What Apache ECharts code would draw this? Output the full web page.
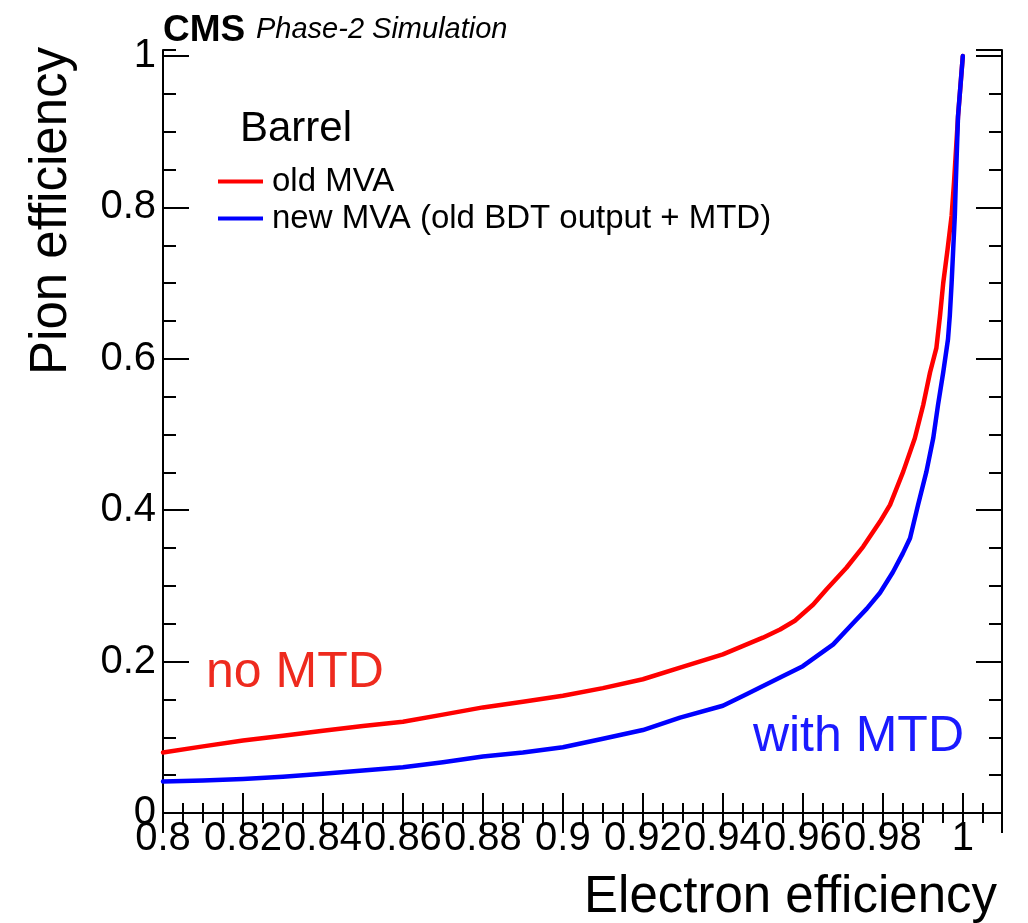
<!DOCTYPE html>
<html>
<head>
<meta charset="utf-8">
<script src="https://cdn.jsdelivr.net/npm/echarts@6/dist/echarts.min.js"></script>
<style>
  html, body { margin: 0; padding: 0; background: #fff; }
  #chart { width: 1028px; height: 923px; }
</style>
</head>
<body>
<div id="chart"></div>
<script>
// ---- data ----
const seriesNames = ['old MVA', 'new MVA (old BDT output + MTD)'];

const electronEffOld = [0.800, 0.810, 0.820, 0.830, 0.840, 0.850, 0.860, 0.870, 0.880, 0.890, 0.900, 0.910, 0.920, 0.9293, 0.940, 0.950, 0.9543, 0.958, 0.9626, 0.9660, 0.9709, 0.9751, 0.9793, 0.9818, 0.9851, 0.9880, 0.9901, 0.9918, 0.9934, 0.9943, 0.9951, 0.9962, 0.9972, 0.9978, 0.9988, 1.000];
const pionEffOld     = [0.080, 0.088, 0.0957, 0.102, 0.1088, 0.115, 0.1206, 0.130, 0.1395, 0.147, 0.155, 0.165, 0.1767, 0.192, 0.2096, 0.2316, 0.2425, 0.254, 0.2754, 0.296, 0.324, 0.352, 0.385, 0.407, 0.451, 0.495, 0.539, 0.582, 0.6145, 0.657, 0.700, 0.745, 0.789, 0.833, 0.920, 1.000];

const electronEffNew = [0.800, 0.810, 0.820, 0.830, 0.840, 0.850, 0.860, 0.870, 0.880, 0.890, 0.900, 0.910, 0.920, 0.9293, 0.940, 0.9459, 0.9543, 0.960, 0.9676, 0.9726, 0.9760, 0.9793, 0.9825, 0.9850, 0.9868, 0.9888, 0.9909, 0.9926, 0.9938, 0.9951, 0.9963, 0.99675, 0.9972, 0.9976, 0.9980, 0.99825, 0.9988, 1.000];
const pionEffNew     = [0.0417, 0.043, 0.045, 0.048, 0.0517, 0.056, 0.0605, 0.067, 0.0746, 0.080, 0.0868, 0.098, 0.1096, 0.126, 0.1417, 0.157, 0.179, 0.194, 0.2228, 0.251, 0.270, 0.291, 0.318, 0.343, 0.363, 0.407, 0.451, 0.495, 0.539, 0.582, 0.626, 0.657, 0.700, 0.745, 0.789, 0.833, 0.920, 1.000];

const xRange = [0.8, 1.0098];
const yRange = [0, 1.008];
const xMajor = 0.02, xMinor = 0.005;
const yMajor = 0.2, yMinor = 0.05;

// ---- chart ----
const FONT = "'Liberation Sans', Arial, Helvetica, sans-serif";
const chart = echarts.init(document.getElementById('chart'), null, { renderer: 'canvas' });

function pairs(xs, ys) { return xs.map((x, i) => [x, ys[i]]); }

function fmtX(v) {
  const r = Math.round(v * 1000) / 1000;
  if (Math.abs(r / xMajor - Math.round(r / xMajor)) > 1e-6) return '';
  return String(+r.toFixed(2));
}
function fmtY(v) {
  const r = Math.round(v * 1000) / 1000;
  return String(+r.toFixed(1));
}

const lineCommon = { show: true, lineStyle: { color: '#000', width: 2 } };
function xAxisDef(position, interval, tickLen, withLabels, showLine) {
  return {
    type: 'value', gridIndex: 0, position: position,
    min: xRange[0], max: xRange[1], interval: interval,
    axisLine: showLine ? lineCommon : { show: false },
    axisTick: { show: true, inside: true, length: tickLen, lineStyle: { color: '#000', width: 2 } },
    minorTick: { show: false },
    splitLine: { show: false },
    axisLabel: withLabels ? {
      show: true, fontSize: 40, fontFamily: FONT, color: '#000', margin: 6,
      showMaxLabel: false, showMinLabel: true, hideOverlap: false, formatter: fmtX
    } : { show: false },
    nameMoveOverlap: false
  };
}
function yAxisDef(position, interval, tickLen, withLabels, showLine) {
  return {
    type: 'value', gridIndex: 0, position: position,
    min: yRange[0], max: yRange[1], interval: interval,
    axisLine: showLine ? lineCommon : { show: false },
    axisTick: { show: true, inside: true, length: tickLen, lineStyle: { color: '#000', width: 2 } },
    minorTick: { show: false },
    splitLine: { show: false },
    axisLabel: withLabels ? {
      show: true, fontSize: 40, fontFamily: FONT, color: '#000', margin: 7,
      showMaxLabel: false, showMinLabel: true, hideOverlap: false, formatter: fmtY
    } : { show: false },
    nameMoveOverlap: false
  };
}

const xMain = xAxisDef('bottom', xMajor, 20, true, true);
xMain.name = 'Electron efficiency';
xMain.nameLocation = 'end';
xMain.nameGap = -5;
xMain.nameTextStyle = { fontSize: 51, fontFamily: FONT, color: '#000', align: 'right', verticalAlign: 'top', padding: [59, 0, 0, 0] };

const yMain = yAxisDef('left', yMajor, 26, true, true);
yMain.name = 'Pion efficiency';
yMain.nameLocation = 'end';
yMain.nameGap = 3;
yMain.nameRotate = 90;
yMain.nameTextStyle = { fontSize: 51, fontFamily: FONT, color: '#000', align: 'right', verticalAlign: 'bottom', padding: [0, 0, 86, 0] };

const option = {
  backgroundColor: '#fff',
  animation: false,
  textStyle: { fontFamily: FONT },
  title: [
    { text: 'CMS', left: 163, top: 12, padding: 0, textStyle: { fontSize: 37, fontWeight: 'bold', fontFamily: FONT, color: '#000' } },
    { text: 'Phase-2 Simulation', left: 256, top: 15, padding: 0, textStyle: { fontSize: 29, fontStyle: 'italic', fontWeight: 'normal', fontFamily: FONT, color: '#000' } },
    { text: 'Barrel', left: 240, top: 108, padding: 0, textStyle: { fontSize: 42, fontWeight: 'normal', fontFamily: FONT, color: '#000' } },
    { text: 'no MTD', left: 206, top: 648, padding: 0, textStyle: { fontSize: 50, fontWeight: 'normal', fontFamily: FONT, color: '#ee2a1e' } },
    { text: 'with MTD', right: 64, top: 712, padding: 0, textStyle: { fontSize: 50, fontWeight: 'normal', fontFamily: FONT, color: '#1a1aff' } }
  ],
  legend: {
    data: seriesNames,
    orient: 'vertical',
    left: 218, top: 165,
    padding: 0,
    itemGap: 4,
    itemWidth: 45, itemHeight: 4,
    icon: 'rect',
    textStyle: { fontSize: 33, fontFamily: FONT, color: '#000', padding: [0, 0, 0, 4] }
  },
  grid: { left: 163, right: 26, top: 50, bottom: 108, containLabel: false, show: false },
  xAxis: [
    xMain,
    xAxisDef('bottom', xMinor, 10, false, false),
    xAxisDef('top', xMajor, 20, false, true),
    xAxisDef('top', xMinor, 10, false, false)
  ],
  yAxis: [
    yMain,
    yAxisDef('left', yMinor, 13, false, false),
    yAxisDef('right', yMajor, 26, false, true),
    yAxisDef('right', yMinor, 13, false, false)
  ],
  series: [
    {
      name: seriesNames[0], type: 'line', xAxisIndex: 0, yAxisIndex: 0,
      data: pairs(electronEffOld, pionEffOld),
      showSymbol: false, symbol: 'none', smooth: false, clip: true,
      color: '#ff0000', lineStyle: { color: '#ff0000', width: 4.5, join: 'round', cap: 'round' }
    },
    {
      name: seriesNames[1], type: 'line', xAxisIndex: 0, yAxisIndex: 0,
      data: pairs(electronEffNew, pionEffNew),
      showSymbol: false, symbol: 'none', smooth: false, clip: true,
      color: '#0000ff', lineStyle: { color: '#0000ff', width: 4.5, join: 'round', cap: 'round' }
    }
  ]
};
chart.setOption(option);
</script>
</body>
</html>
